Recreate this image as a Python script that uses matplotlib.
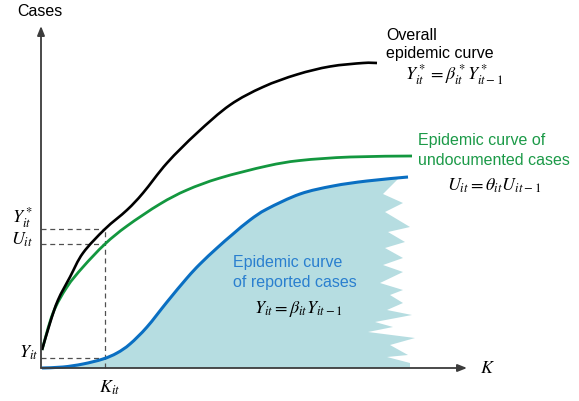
import numpy as np
import matplotlib
matplotlib.use("Agg")
import matplotlib.pyplot as plt
from matplotlib.path import Path
from matplotlib.patches import PathPatch

plt.rcParams["font.family"] = ["Liberation Sans", "DejaVu Sans"]
plt.rcParams["mathtext.fontset"] = "stix"

# Schematic epidemic curves: K on the horizontal axis, cumulative cases up
overall_k = [1, 9, 17, 29, 42, 64, 86, 102, 126, 156, 189, 222, 256, 289, 322, 336]
overall_c = [18, 45, 68, 91, 115, 139, 158, 175, 205, 235, 263, 281, 293.5, 301.5,
             305, 305]

undoc_k = [1, 12, 26, 42, 64, 86, 119, 146, 179, 226, 259, 309, 371]
undoc_c = [18, 55, 81, 101, 124, 142, 164, 178, 190, 202, 207.5, 211, 212]

report_k = [1, 22, 42, 62, 76, 89, 106, 126, 146, 159, 176, 192, 209, 226,
            259, 292, 326, 367]
report_c = [0, 1, 4, 9, 15, 24, 41, 66, 90, 104, 120, 134, 148, 159,
            174, 182, 187, 191]

# torn right edge of the shaded reported area
edge_k = [357, 342, 362, 344, 369, 347, 364, 344, 362, 342, 362, 339, 362, 349,
          362, 346, 371, 334, 352, 327, 374, 349, 367, 346, 369, 369]
edge_c = [189, 174, 165, 156, 141, 136, 126, 120, 110, 103, 96, 85, 78, 73,
          65, 58, 53, 46, 41, 36, 30, 23, 13, 11, 5, 0]

k_it = 64

BLACK = "#000000"
GREEN = "#13973f"
BLUE = "#0a6fc2"
GREEN_TXT = "#1c9a48"
BLUE_TXT = "#2a7fcf"
FILL = "#b6dde1"
AXIS = "#3c3c3c"


def smooth_path(xs, ys):
    """Cubic Bezier path passing through every point (Catmull-Rom tangents)."""
    p = np.column_stack([xs, ys]).astype(float)
    verts = [p[0]]
    codes = [Path.MOVETO]
    for i in range(len(p) - 1):
        p0 = p[max(i - 1, 0)]
        p1, p2 = p[i], p[i + 1]
        p3 = p[min(i + 2, len(p) - 1)]
        verts += [p1 + (p2 - p0) / 6, p2 - (p3 - p1) / 6, p2]
        codes += [Path.CURVE4] * 3
    return Path(verts, codes)


def curve(ax, xs, ys, color, lw, z):
    ax.add_patch(PathPatch(smooth_path(xs, ys), fill=False, edgecolor=color,
                           lw=lw, capstyle="butt", joinstyle="round", zorder=z))


fig = plt.figure(figsize=(5.79, 4.01), dpi=100)
ax = fig.add_axes([0, 0, 1, 1])
ax.set_xlim(-41, 538)
ax.set_ylim(-33, 368)
ax.axis("off")

# shaded area under the reported-cases curve
rk = np.array(report_k)
rc = np.array(report_c)
keep = rk < edge_k[0]
top = smooth_path(np.append(rk[keep], edge_k[0]), np.append(rc[keep], edge_c[0]))
top_pts = top.to_polygons(closed_only=False)[0]
poly = np.vstack([top_pts, np.column_stack([edge_k, edge_c]), [[rk[0], 0]]])
ax.fill(poly[:, 0], poly[:, 1], color=FILL, lw=0, zorder=1)

# reference levels at K_it
y_star = np.interp(k_it, overall_k, overall_c)
u_lvl = np.interp(k_it, undoc_k, undoc_c)
y_lvl = np.interp(k_it, report_k, report_c)
dash = dict(color="#505050", lw=0.9, ls=(0, (4, 3)), zorder=2)
for lvl in (y_star, u_lvl, y_lvl):
    ax.plot([0, k_it], [lvl, lvl], **dash)
ax.plot([k_it, k_it], [0, y_star], **dash)

curve(ax, report_k, report_c, BLUE, 2.2, 3)
curve(ax, undoc_k, undoc_c, GREEN, 2.0, 4)
curve(ax, overall_k, overall_c, BLACK, 1.9, 5)

# axes with arrow heads
arr = dict(arrowstyle="-|>,head_length=0.55,head_width=0.22", color=AXIS,
           lw=1.3, shrinkA=0, shrinkB=0)
ax.annotate("", xy=(0, 342), xytext=(0, 0), arrowprops=arr, zorder=6)
ax.annotate("", xy=(426, 0), xytext=(0, 0), arrowprops=arr, zorder=6)

ax.text(-1.5, 356, "Cases", fontsize=11.5, ha="center", va="center")
ax.text(439, -5, r"$K$", fontsize=13, ha="left", va="baseline")
ax.text(69, -25, r"$K_{it}$", fontsize=13, ha="center", va="baseline")
ax.text(-8, 145, r"$Y^*_{it}$", fontsize=13, ha="right", va="baseline")
ax.text(-8, 123, r"$U_{it}$", fontsize=13, ha="right", va="baseline")
ax.text(-3, 10, r"$Y_{it}$", fontsize=13, ha="right", va="baseline")

ax.text(345, 328, "Overall", fontsize=11.5, ha="left", va="baseline")
ax.text(345, 310, "epidemic curve", fontsize=11.5, ha="left", va="baseline")
ax.text(413, 288, r"$Y^*_{it}=\beta^*_{it}Y^*_{it-1}$", fontsize=13,
        ha="center", va="baseline")

ax.text(377, 223, "Epidemic curve of", fontsize=11.5, color=GREEN_TXT,
        ha="left", va="baseline")
ax.text(377, 203, "undocumented cases", fontsize=11.5, color=GREEN_TXT,
        ha="left", va="baseline")
ax.text(453, 177, r"$U_{it}=\theta_{it}U_{it-1}$", fontsize=13,
        ha="center", va="baseline")

ax.text(192, 101, "Epidemic curve", fontsize=11.5, color=BLUE_TXT,
        ha="left", va="baseline")
ax.text(192, 81, "of reported cases", fontsize=11.5, color=BLUE_TXT,
        ha="left", va="baseline")
ax.text(257, 55, r"$Y_{it}=\beta_{it}Y_{it-1}$", fontsize=13,
        ha="center", va="baseline")

fig.savefig("out.png", dpi=100)
